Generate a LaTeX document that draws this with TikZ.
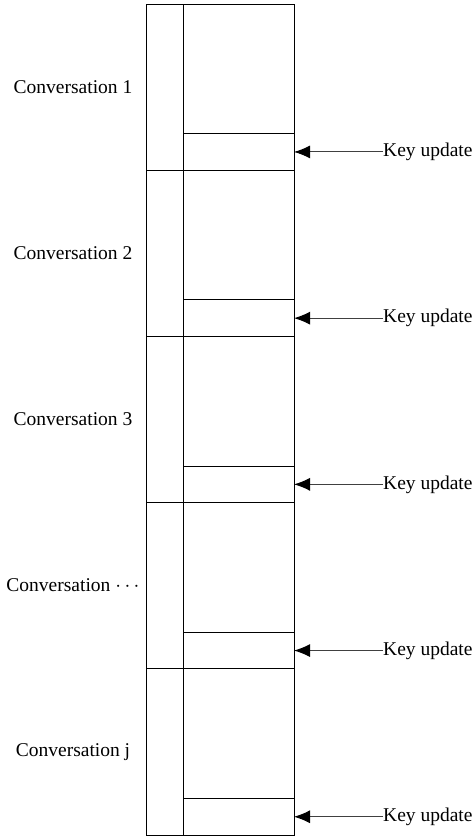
\documentclass[tikz,border=0pt]{standalone}
\usepackage{fontspec}
\setmainfont{Liberation Serif}
\usetikzlibrary{arrows.meta,positioning}

\begin{document}
\begin{tikzpicture}
    [x=1pt,y=-1pt,every node/.style={font=\fontsize{19.5}{22}\selectfont},
    cell/.style={draw,line width=1pt,inner sep=0pt,outer sep=0pt,
    minimum width=111pt,minimum height=166.2pt}]
    \useasboundingbox (0,0) rectangle (472,839);
    \foreach \i/\name in {0/1,1/2,2/3,3/{$\cdots$},4/j} {
      % label column, message area and the key update slot at its foot
      \node[cell,anchor=north west,minimum width=37pt] (tag\i) at (146,4+166.2*\i) {};
      \node[cell,anchor=north west] (body\i) at (tag\i.north east) {};
      \node[cell,anchor=south west,minimum height=36.5pt] (slot\i) at (body\i.south west) {};
      \node (conv\i) at (73,87+166.2*\i) {Conversation \name};
      \node[anchor=west,inner sep=0pt] (key\i) [right=89pt of slot\i.east] {Key update};
      \draw[black!75,line width=1pt,-{Latex[black,length=16pt,width=13pt]}] (key\i) -- (slot\i.east);
    }
  \end{tikzpicture}
\end{document}
